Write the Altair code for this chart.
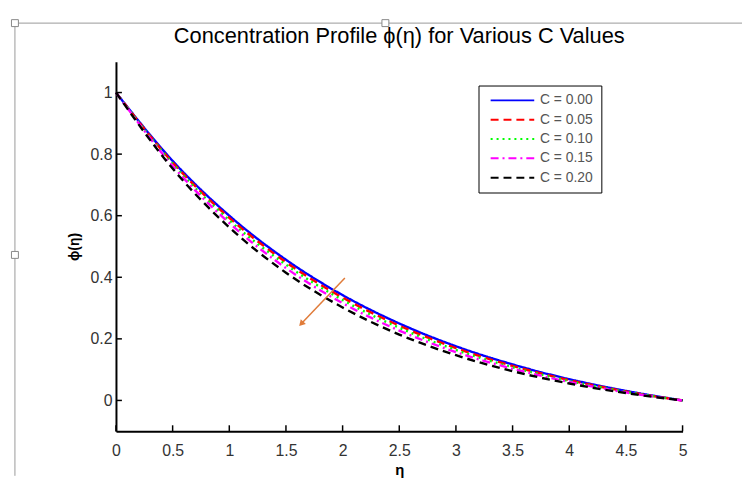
import altair as alt
import pandas as pd

# ---- data ----
eta = [0.0, 0.5, 1.0, 1.5, 2.0, 2.5, 3.0, 3.5, 4.0, 4.5, 5.0]
phi_c000 = [1.0, 0.778, 0.600, 0.457, 0.342, 0.250, 0.176, 0.117, 0.069, 0.031, 0.0]
phi_c005 = [1.0, 0.773, 0.593, 0.449, 0.334, 0.243, 0.170, 0.112, 0.066, 0.029, 0.0]
phi_c010 = [1.0, 0.769, 0.585, 0.441, 0.326, 0.236, 0.164, 0.108, 0.063, 0.028, 0.0]
phi_c015 = [1.0, 0.762, 0.576, 0.430, 0.316, 0.227, 0.157, 0.103, 0.060, 0.026, 0.0]
phi_c020 = [1.0, 0.753, 0.562, 0.415, 0.302, 0.214, 0.147, 0.095, 0.055, 0.024, 0.0]

series_labels = ["C = 0.00", "C = 0.05", "C = 0.10", "C = 0.15", "C = 0.20"]
series_colors = ["#0000ff", "#ff0000", "#00ff00", "#ff00ff", "#000000"]
series_dashes = [[1, 0], [8, 5], [2, 4], [8, 4, 2, 4], [8, 5]]

x_ticks = [0, 0.5, 1, 1.5, 2, 2.5, 3, 3.5, 4, 4.5, 5]
y_ticks = [0, 0.2, 0.4, 0.6, 0.8, 1]

arrow_x = [2.02, 1.635]
arrow_y = [0.398, 0.249]

FONT = "Liberation Sans, Arial, sans-serif"

rows = []
for lab, vals in zip(series_labels, [phi_c000, phi_c005, phi_c010, phi_c015, phi_c020]):
    for e, v in zip(eta, vals):
        rows.append({"eta": e, "phi": v, "series": lab})
df = pd.DataFrame(rows)

xs = alt.Scale(domain=[0, 5], nice=False, zero=False)
ys = alt.Scale(domain=[-0.1, 1.1], nice=False, zero=False)

lines = alt.Chart(df).mark_line(strokeWidth=2.4, interpolate="monotone").encode(
    x=alt.X("eta:Q", scale=xs,
            axis=alt.Axis(values=x_ticks, format="~g", title="η", titleFontSize=15,
                          titleY=39, titleBaseline="middle", labelPadding=12, labelFlush=False)),
    y=alt.Y("phi:Q", scale=ys,
            axis=alt.Axis(values=y_ticks, format="~g", title="ϕ(η)", titleFontSize=14,
                          titleX=-42, titleY=186.5, titleBaseline="middle", titleAlign="center",
                          labelPadding=4, labelFlush=False)),
    color=alt.Color("series:N", scale=alt.Scale(domain=series_labels, range=series_colors),
                    legend=alt.Legend(title=None, orient="none", legendX=366, legendY=24,
                                      symbolType="M-0.5,0H7.5", symbolSize=121, symbolStrokeWidth=2,
                                      labelFont=FONT, labelFontSize=14, labelColor="#555555",
                                      labelOffset=40, rowPadding=5.5, padding=8,
                                      strokeColor="black", fillColor="white")),
    strokeDash=alt.StrokeDash("series:N", scale=alt.Scale(domain=series_labels, range=series_dashes),
                              legend=alt.Legend(title=None)),
)

xt = alt.Chart(pd.DataFrame({"t": x_ticks})).mark_rule(color="black", strokeWidth=1.5).encode(
    x=alt.X("t:Q", scale=xs), y=alt.value(373), y2=alt.value(367))
yt = alt.Chart(pd.DataFrame({"t": y_ticks})).mark_rule(color="black", strokeWidth=1.5).encode(
    y=alt.Y("t:Q", scale=ys), x=alt.value(0), x2=alt.value(6))

arrow_df = pd.DataFrame({"ax": arrow_x, "ay": arrow_y, "o": [0, 1]})
arrow_line = alt.Chart(arrow_df).mark_line(color="#e07b39", strokeWidth=1.5).encode(
    x=alt.X("ax:Q", scale=xs), y=alt.Y("ay:Q", scale=ys), order="o:Q")
arrow_head = alt.Chart(arrow_df.iloc[[1]]).mark_point(
    shape="triangle-up", filled=True, color="#e07b39", size=50, angle=223, opacity=1).encode(
    x=alt.X("ax:Q", scale=xs), y=alt.Y("ay:Q", scale=ys))

# frame lines and handles of the embedded picture
one = pd.DataFrame({"a": [0]})
frame_top = alt.Chart(one).mark_rule(color="#999999", strokeWidth=1).encode(
    x=alt.value(-102), x2=alt.value(633), y=alt.value(-39))
frame_left = alt.Chart(one).mark_rule(color="#999999", strokeWidth=1).encode(
    x=alt.value(-102), y=alt.value(-39), y2=alt.value(418))
h1 = alt.Chart(one).mark_square(size=49, fill="white", stroke="#888888", strokeWidth=1, opacity=1).encode(
    x=alt.value(-102), y=alt.value(-39))
h2 = alt.Chart(one).mark_square(size=49, fill="white", stroke="#888888", strokeWidth=1, opacity=1).encode(
    x=alt.value(272), y=alt.value(-39))
h3 = alt.Chart(one).mark_square(size=49, fill="white", stroke="#888888", strokeWidth=1, opacity=1).encode(
    x=alt.value(-102), y=alt.value(195))

chart = alt.layer(frame_top, frame_left, h1, h2, h3, lines, xt, yt, arrow_line, arrow_head).properties(
    width=572, height=373,
    padding={"left": 109, "top": 52, "right": 60, "bottom": 50},
    autosize=alt.AutoSizeParams(type="none"),
    title=alt.TitleParams("Concentration Profile ϕ(η) for Various C Values", font=FONT,
                          fontSize=22, fontWeight="normal", color="black", offset=0, dy=31,
                          anchor="middle", frame="group"),
).configure_view(stroke=None).configure_axis(
    domainColor="black", domainWidth=2, ticks=False, grid=False,
    labelFont=FONT, labelFontSize=16, labelColor="#333333",
    titleFont=FONT, titleFontWeight="bold", titleColor="black",
)

chart.save("out.html", embed_options={"renderer": "svg", "actions": False})
